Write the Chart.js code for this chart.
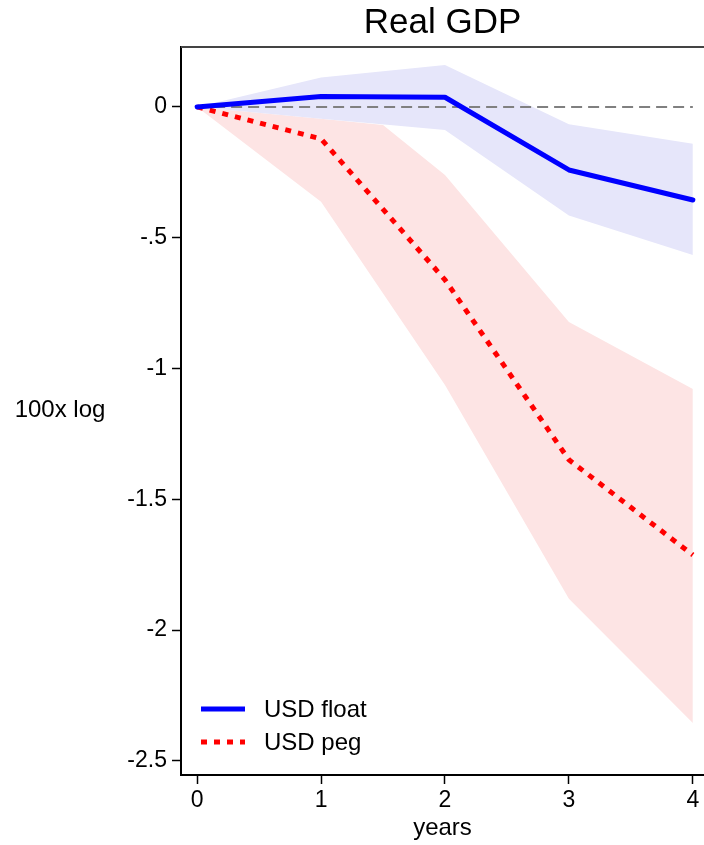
<!DOCTYPE html>
<html>
<head>
<meta charset="utf-8">
<script src="https://cdn.jsdelivr.net/npm/chart.js@4"></script>
<style>
  html, body { margin: 0; padding: 0; background: #fff; }
  #wrap { width: 704px; height: 845px; }
</style>
</head>
<body>
<div id="wrap"><canvas id="gdpChart" width="704" height="845"></canvas></div>
<script>
// horizon in years
const years = [0, 1, 2, 3, 4];
const floatMean = [0, 0.04, 0.037, -0.241, -0.356];
const floatUpper = [0, 0.112, 0.16, -0.066, -0.141];
const floatLower = [0, -0.045, -0.088, -0.415, -0.566];

const pegMean = [0, -0.122, -0.661, -1.349, -1.713];
// upper edge of the peg band has an extra kink between years 1 and 2
const pegUpperYears = [0, 1, 1.5, 2, 3, 4];
const pegUpper = [0, -0.045, -0.069, -0.26, -0.822, -1.078];
const pegLower = [0, -0.363, -1.063, -1.88, -2.355];

const xTicks = [0, 1, 2, 3, 4];
const yTicks = [0, -0.5, -1, -1.5, -2, -2.5];
const yTickLabels = ['0', '-.5', '-1', '-1.5', '-2', '-2.5'];

const FONT = '"Liberation Sans", Arial, Helvetica, sans-serif';

function pts(xs, ys) {
  return xs.map((x, i) => ({ x: x, y: ys[i] }));
}

// title, y label, top frame line and legend drawn inside the figure
const extras = {
  id: 'extras',
  afterDraw(chart) {
    const ctx = chart.ctx;
    const a = chart.chartArea;
    ctx.save();
    ctx.strokeStyle = '#444';
    ctx.lineWidth = 2;
    ctx.beginPath();
    ctx.moveTo(a.left, a.top);
    ctx.lineTo(a.right, a.top);
    ctx.stroke();

    ctx.fillStyle = '#000';
    ctx.textAlign = 'center';
    ctx.textBaseline = 'middle';
    ctx.font = '35px ' + FONT;
    ctx.fillText('Real GDP', (a.left + a.right) / 2, 23);

    ctx.font = '24px ' + FONT;
    ctx.fillText('100x log', 60, 410);

    // legend
    const items = [
      { label: 'USD float', color: '#0000ff', dash: [], y: 709 },
      { label: 'USD peg', color: '#ff0000', dash: [6, 7], y: 742 }
    ];
    ctx.textAlign = 'left';
    ctx.font = '24px ' + FONT;
    items.forEach(it => {
      ctx.strokeStyle = it.color;
      ctx.lineWidth = 5;
      ctx.lineCap = 'butt';
      ctx.setLineDash(it.dash);
      ctx.beginPath();
      ctx.moveTo(201, it.y);
      ctx.lineTo(245, it.y);
      ctx.stroke();
      ctx.setLineDash([]);
      ctx.fillStyle = '#000';
      ctx.fillText(it.label, 264, it.y + 1);
    });
    ctx.restore();
  }
};

new Chart(document.getElementById('gdpChart'), {
  type: 'line',
  data: {
    datasets: [
      {
        label: 'float upper',
        data: pts(years, floatUpper),
        borderWidth: 0,
        borderColor: 'rgba(0,0,0,0)',
        backgroundColor: '#e6e6fa',
        fill: '+1',
        order: 10
      },
      {
        label: 'float lower',
        data: pts(years, floatLower),
        borderWidth: 0,
        borderColor: 'rgba(0,0,0,0)',
        fill: false,
        order: 10
      },
      {
        label: 'peg upper',
        data: pts(pegUpperYears, pegUpper),
        borderWidth: 0,
        borderColor: 'rgba(0,0,0,0)',
        backgroundColor: '#fde4e4',
        fill: '+1',
        order: 11
      },
      {
        label: 'peg lower',
        data: pts(years, pegLower),
        borderWidth: 0,
        borderColor: 'rgba(0,0,0,0)',
        fill: false,
        order: 11
      },
      {
        label: 'zero',
        data: pts([0, 4], [0, 0]),
        borderColor: '#808080',
        borderWidth: 2,
        borderDash: [11, 6],
        fill: false,
        order: 5
      },
      {
        label: 'USD peg',
        data: pts(years, pegMean),
        borderColor: '#ff0000',
        borderWidth: 5,
        borderDash: [6, 7],
        borderCapStyle: 'butt',
        fill: false,
        order: 2
      },
      {
        label: 'USD float',
        data: pts(years, floatMean),
        borderColor: '#0000ff',
        borderWidth: 5,
        borderCapStyle: 'round',
        borderJoinStyle: 'round',
        fill: false,
        order: 1
      }
    ]
  },
  options: {
    responsive: false,
    animation: false,
    events: [],
    layout: { padding: { top: 47, right: 0, left: 0, bottom: 0 } },
    elements: {
      point: { radius: 0 },
      line: { tension: 0 }
    },
    plugins: {
      legend: { display: false },
      title: { display: false },
      tooltip: { enabled: false }
    },
    scales: {
      x: {
        type: 'linear',
        min: -0.13,
        max: 4.09,
        afterBuildTicks: s => { s.ticks = xTicks.map(v => ({ value: v })); },
        afterFit: s => { s.height = 70; },
        grid: { drawOnChartArea: false, tickLength: 9, color: '#000', tickWidth: 1.5 },
        border: { color: '#000', width: 2 },
        ticks: {
          color: '#000',
          font: { family: FONT, size: 23 },
          padding: 3,
          maxRotation: 0,
          callback: v => String(v)
        },
        title: {
          display: true,
          text: 'years',
          color: '#000',
          font: { family: FONT, size: 24 },
          padding: { top: 0, bottom: 2 }
        }
      },
      y: {
        type: 'linear',
        min: -2.554,
        max: 0.229,
        afterBuildTicks: s => { s.ticks = yTicks.map(v => ({ value: v })); },
        afterFit: s => { s.width = 181; },
        grid: { drawOnChartArea: false, tickLength: 9, color: '#000', tickWidth: 1.5 },
        border: { color: '#000', width: 2 },
        ticks: {
          color: '#000',
          font: { family: FONT, size: 23 },
          padding: 5,
          callback: v => yTickLabels[yTicks.indexOf(v)]
        }
      }
    }
  },
  plugins: [extras]
});
</script>
</body>
</html>
